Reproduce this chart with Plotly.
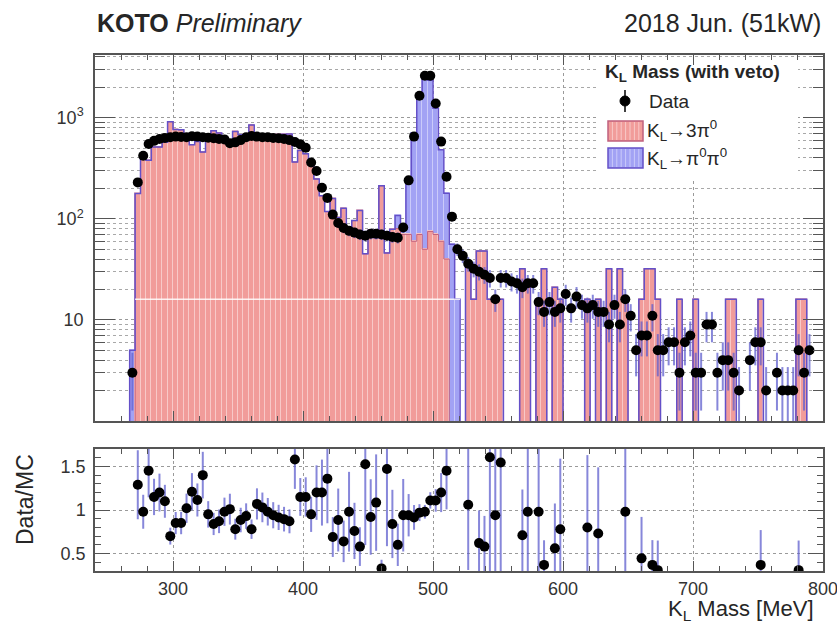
import numpy as np
import plotly.graph_objects as go

# ---------------- data ----------------
# bins: width 1000/240 MeV, first bin starts at 64*width (266.7 MeV)
BIN_WIDTH = 1000.0 / 240.0
FIRST_EDGE_INDEX = 64
MC_EVENT_WEIGHT = 16.0

DATA = [3, 229, 421, 550, 590, 616, 630, 640, 650, 645,
        640, 655, 650, 640, 635, 625, 615, 610, 560, 570,
        600, 640, 660, 650, 640, 640, 630, 625, 615, 600,
        575, 545, 505, 360, 297, 203, 161, 110, 91, 81,
        76, 73, 70, 68, 71, 71, 70, 68, 66, 65,
        82, 240, 650, 1650, 2600, 2600, 1380, 580, 260, 105,
        50, 43, 36, 32, 30, 28, 26, 16, 26, 26,
        24, 23, 21, 23, 23, 15, 12, 15, 12, 13,
        18, 13, 17, 14, 13, 14, 12, 12, 9, 14,
        9, 16, 11, 5, 7, 7, 11, 5, 5, 6,
        6, 3, 6, 7, 3, 3, 9, 9, 3, 4,
        4, 3, 2, 0, 4, 6, 6, 2, 0, 3,
        2, 2, 2, 5, 3, 5, 0, 0]

MC_3PI0 = [0, 178, 430, 379, 513, 513, 573, 914, 765, 759,
           627, 541, 583, 457, 668, 744, 707, 622, 554, 731,
           678, 688, 846, 607, 621, 653, 670, 683, 687, 690,
           364, 474, 439, 379, 248, 169, 118, 159, 103, 127,
           78, 96, 121, 45, 77, 65, 212, 46, 79, 80,
           70, 70, 60, 70, 50, 75, 70, 60, 40, 0,
           0, 0, 34, 16, 48, 48, 16, 16, 16, 0,
           0, 0, 32, 24, 0, 16, 32, 0, 21, 16,
           0, 0, 0, 0, 16, 0, 16, 0, 32, 0,
           32, 16, 0, 0, 16, 32, 32, 16, 0, 0,
           0, 16, 0, 0, 16, 0, 0, 0, 0, 0,
           16, 16, 0, 0, 0, 0, 16, 0, 0, 0,
           0, 0, 0, 16, 16, 0, 0, 0]

MC_2PI0 = [5, 0, 0, 0, 0, 0, 0, 0, 0, 0,
           0, 0, 0, 0, 0, 0, 0, 0, 0, 0,
           0, 0, 0, 0, 0, 0, 0, 0, 0, 0,
           0, 0, 0, 0, 0, 0, 0, 0, 0, 0,
           0, 0, 0, 0, 0, 0, 0, 0, 0, 28,
           17, 185, 650, 1630, 2600, 2265, 1173, 423, 139, 56,
           16, 0, 0, 0, 0, 0, 0, 0, 0, 0,
           0, 0, 0, 0, 0, 0, 0, 0, 0, 0,
           0, 0, 0, 0, 0, 0, 0, 0, 0, 0,
           0, 0, 0, 0, 0, 0, 0, 0, 0, 0,
           0, 0, 0, 0, 0, 0, 0, 0, 0, 0,
           0, 0, 0, 0, 0, 0, 0, 0, 0, 0,
           0, 0, 0, 0, 0, 0, 0, 0]

_ = None
RATIO = [_, 1.29, 0.98, 1.45, 1.15, 1.20, 1.10, 0.70, 0.85, 0.85,
         1.02, 1.21, 1.115, 1.40, 0.95, 0.84, 0.87, 0.98, 1.01, 0.78,
         0.885, 0.93, 0.78, 1.07, 1.03, 0.98, 0.94, 0.915, 0.895, 0.87,
         1.58, 1.15, 1.15, 0.95, 1.20, 1.20, 1.36, 0.69, 0.885, 0.64,
         0.98, 0.76, 0.58, 1.525, 0.92, 1.085, 0.33, 1.47, 0.84, 0.60,
         0.94, 0.94, 0.915, 0.97, 0.98, 1.11, 1.11, 1.20, 1.45, _,
         _, _, 1.06, _, 0.62, 0.58, 1.605, 0.94, 1.545, _,
         _, _, 0.71, 0.98, _, 0.98, 0.37, _, 0.56, 0.78,
         _, _, _, _, 0.80, _, 0.73, _, _, _,
         _, 0.98, _, _, 0.445, _, 0.37, 0.31, _, _,
         _, _, _, _, _, _, _, _, _, _,
         _, _, _, _, _, _, 0.37, _, _, _,
         _, _, _, 0.31, _, _, _, _]

X_TICKS = [300, 400, 500, 600, 700, 800]
Y_TICKS = [10, 100, 1000]
Y_TICK_TEXT = ["10", "10<sup>2</sup>", "10<sup>3</sup>"]
Y_MINOR = [2, 3, 4, 5, 6, 7, 8, 9, 20, 30, 40, 50, 60, 70, 80, 90,
           200, 300, 400, 500, 600, 700, 800, 900, 2000, 3000, 4000]
R_TICKS = [0.5, 1.0, 1.5]
R_TICK_TEXT = ["0.5", "1", "1.5"]

# ---------------- derived ----------------
n = len(DATA)
edges = (FIRST_EDGE_INDEX + np.arange(n + 1)) * BIN_WIDTH
centers = 0.5 * (edges[:-1] + edges[1:])
data = np.array(DATA, float)
red = np.array(MC_3PI0, float)
blue = np.array(MC_2PI0, float)
total = red + blue
ratio = np.array([np.nan if r is None else r for r in RATIO], float)

FONT = "Liberation Sans, Arial, Helvetica, sans-serif"
TXT = "#262626"
AX = "#555555"
RED_FILL, RED_STRIPE, RED_LINE = "#f19c9a", "#f8c9c8", "#c0607e"
BLUE_FILL, BLUE_STRIPE = "#a2a2f4", "#cacafa"
OUTLINE = "#6450c8"
ERR = "rgba(95,95,205,0.75)"

fig = go.Figure()

# stacked MC: total (blue) underneath, 3pi0 (red) on top
fig.add_trace(go.Bar(x=centers, y=np.where(total > 0, total, np.nan), width=BIN_WIDTH,
                     marker=dict(color=BLUE_FILL, line=dict(color=BLUE_STRIPE, width=1)),
                     xaxis="x", yaxis="y", hoverinfo="skip"))
fig.add_trace(go.Bar(x=centers, y=np.where(red > 0, red, np.nan), width=BIN_WIDTH,
                     marker=dict(color=RED_FILL, line=dict(color=RED_STRIPE, width=1)),
                     xaxis="x", yaxis="y", hoverinfo="skip"))

tiny = 1e-2
def step(vals):
    v = np.where(vals > 0, vals, tiny)
    xs = np.concatenate([[edges[0]], edges[:-1], [edges[-1], edges[-1]]])
    ys = np.concatenate([[tiny], v, [v[-1], tiny]])
    return xs, ys

xs, ys = step(red)
fig.add_trace(go.Scatter(x=xs, y=ys, mode="lines", line=dict(color=RED_LINE, width=1, shape="hv"),
                         xaxis="x", yaxis="y", hoverinfo="skip"))
xs, ys = step(total)
fig.add_trace(go.Scatter(x=xs, y=ys, mode="lines", line=dict(color=OUTLINE, width=1.5, shape="hv"),
                         xaxis="x", yaxis="y", hoverinfo="skip"))

m = data > 0
fig.add_trace(go.Scatter(x=centers[m], y=data[m], mode="markers",
                         marker=dict(color="black", size=10),
                         error_y=dict(type="data", array=np.sqrt(data[m]), color=ERR, thickness=2, width=0),
                         xaxis="x", yaxis="y", hoverinfo="skip"))

# ratio panel
mr = ~np.isnan(ratio)
with np.errstate(divide="ignore", invalid="ignore"):
    rerr = ratio * np.sqrt(1.0 / data + MC_EVENT_WEIGHT / total)
fig.add_trace(go.Scatter(x=centers[mr], y=ratio[mr], mode="markers",
                         marker=dict(color="black", size=10),
                         error_y=dict(type="data", array=rerr[mr], color=ERR, thickness=2, width=0),
                         xaxis="x2", yaxis="y2", hoverinfo="skip", cliponaxis=True))

axis_common = dict(showline=True, linecolor=AX, linewidth=1.5, mirror="allticks",
                   ticks="inside", tickcolor=AX, zeroline=False, automargin=False,
                   tickfont=dict(family=FONT, size=18, color="#333333"))

fig.update_layout(
    width=837, height=623,
    margin=dict(l=95, r=14, t=55, b=52, autoexpand=False),
    paper_bgcolor="white", plot_bgcolor="white",
    barmode="overlay", bargap=0, showlegend=False,
    xaxis=dict(domain=[0, 1], range=[240, 800], anchor="y", showticklabels=False,
               tickvals=X_TICKS, ticklen=10, tickwidth=1,
               showgrid=True, gridcolor="#9a9a9a", griddash="dot", gridwidth=1,
               minor=dict(dtick=20, tick0=0, ticklen=5, ticks="inside", tickcolor=AX, showgrid=False),
               **axis_common),
    yaxis=dict(domain=[0.2907, 1], type="log", range=[0, 3.62], anchor="x",
               tickvals=Y_TICKS, ticktext=Y_TICK_TEXT, ticklen=20, tickwidth=1,
               showgrid=True, gridcolor="#9a9a9a", griddash="dot", gridwidth=1,
               ticklabelstandoff=6,
               minor=dict(tickvals=Y_MINOR, ticklen=10, ticks="inside", tickcolor=AX,
                          showgrid=True, gridcolor="#a8a8a8", griddash="dot", gridwidth=1),
               **axis_common),
    xaxis2=dict(domain=[0, 1], range=[240, 800], anchor="y2",
                tickvals=X_TICKS, ticklen=10, tickwidth=1,
                showgrid=True, gridcolor="#9a9a9a", griddash="dot", gridwidth=1,
                ticklabelstandoff=1, ticklabeloverflow="allow",
                minor=dict(dtick=20, tick0=0, ticklen=5, ticks="inside", tickcolor=AX, showgrid=False),
                **axis_common),
    yaxis2=dict(domain=[0, 0.2364], range=[0.3, 1.7], anchor="x2",
                tickvals=R_TICKS, ticktext=R_TICK_TEXT, ticklen=15, tickwidth=1,
                showgrid=True, gridcolor="#9a9a9a", griddash="dot", gridwidth=1,
                ticklabelstandoff=4,
                minor=dict(dtick=0.1, tick0=0, ticklen=6, ticks="inside", tickcolor=AX, showgrid=False),
                **axis_common),
)

# helpers: pixel -> paper
def px(xp):
    return (xp - 95) / 728.0
def py(yp):
    return (571 - yp) / 516.0

shapes = []
# faint white line drawn across the filled histogram (as in the reference)
shapes.append(dict(type="line", xref="x", yref="y", x0=edges[1], x1=edges[61], y0=16, y1=16,
                   line=dict(color="rgba(255,255,255,0.85)", width=1.5), layer="above"))
# legend background
shapes.append(dict(type="rect", xref="paper", yref="paper", x0=px(597), x1=px(798), y0=py(180), y1=py(66),
                   fillcolor="white", line=dict(width=0), layer="above"))
# data symbol
shapes.append(dict(type="line", xref="paper", yref="paper", x0=px(625), x1=px(625), y0=py(112), y1=py(90),
                   line=dict(color="black", width=1.5), layer="above"))
shapes.append(dict(type="circle", xref="paper", yref="paper", x0=px(620), x1=px(630), y0=py(106), y1=py(96),
                   fillcolor="black", line=dict(color="black", width=1), layer="above"))
# red / blue boxes with stripes
for (y0, y1, fill, stripe, edge) in [(121, 141, RED_FILL, RED_STRIPE, RED_LINE),
                                      (148, 168, BLUE_FILL, BLUE_STRIPE, OUTLINE)]:
    shapes.append(dict(type="rect", xref="paper", yref="paper", x0=px(608), x1=px(643), y0=py(y1), y1=py(y0),
                       fillcolor=fill, line=dict(color=edge, width=1.5), layer="above"))
    for k in range(1, 8):
        xk = 608 + k * 4.4
        shapes.append(dict(type="line", xref="paper", yref="paper", x0=px(xk), x1=px(xk),
                           y0=py(y1 - 1), y1=py(y0 + 1), line=dict(color=stripe, width=1), layer="above"))
fig.update_layout(shapes=shapes)

ann = []
ann.append(dict(x=0.0, y=py(23), xref="paper", yref="paper", xanchor="left", yanchor="middle",
                text="<b>KOTO</b> <i>Preliminary</i>", showarrow=False,
                font=dict(family=FONT, size=25, color=TXT)))
ann.append(dict(x=1.0, y=py(23), xref="paper", yref="paper", xanchor="right", yanchor="middle",
                text="2018 Jun. (51kW)", showarrow=False,
                font=dict(family=FONT, size=25, color=TXT)))
ann.append(dict(x=px(603), y=py(73), xref="paper", yref="paper", xanchor="left", yanchor="middle",
                text="<b>K<sub>L</sub> Mass (with veto)</b>", showarrow=False,
                font=dict(family=FONT, size=19, color=TXT)))
ann.append(dict(x=px(647), y=py(101), xref="paper", yref="paper", xanchor="left", yanchor="middle",
                text="Data", showarrow=False, font=dict(family=FONT, size=19, color=TXT)))
ann.append(dict(x=px(645), y=py(130), xref="paper", yref="paper", xanchor="left", yanchor="middle",
                text="K<sub>L</sub>→3π<sup>0</sup>", showarrow=False, font=dict(family=FONT, size=19, color=TXT)))
ann.append(dict(x=px(645), y=py(158), xref="paper", yref="paper", xanchor="left", yanchor="middle",
                text="K<sub>L</sub>→π<sup>0</sup>π<sup>0</sup>", showarrow=False, font=dict(family=FONT, size=19, color=TXT)))
ann.append(dict(x=px(25), y=py(500), xref="paper", yref="paper", xanchor="center", yanchor="middle",
                text="Data/MC", textangle=-90, showarrow=False, font=dict(family=FONT, size=23, color=TXT)))
ann.append(dict(x=px(816), y=py(610), xref="paper", yref="paper", xanchor="right", yanchor="middle",
                text="K<sub>L</sub> Mass [MeV]", showarrow=False, font=dict(family=FONT, size=22, color=TXT)))
fig.update_layout(annotations=ann)

fig.write_html("out.html")
